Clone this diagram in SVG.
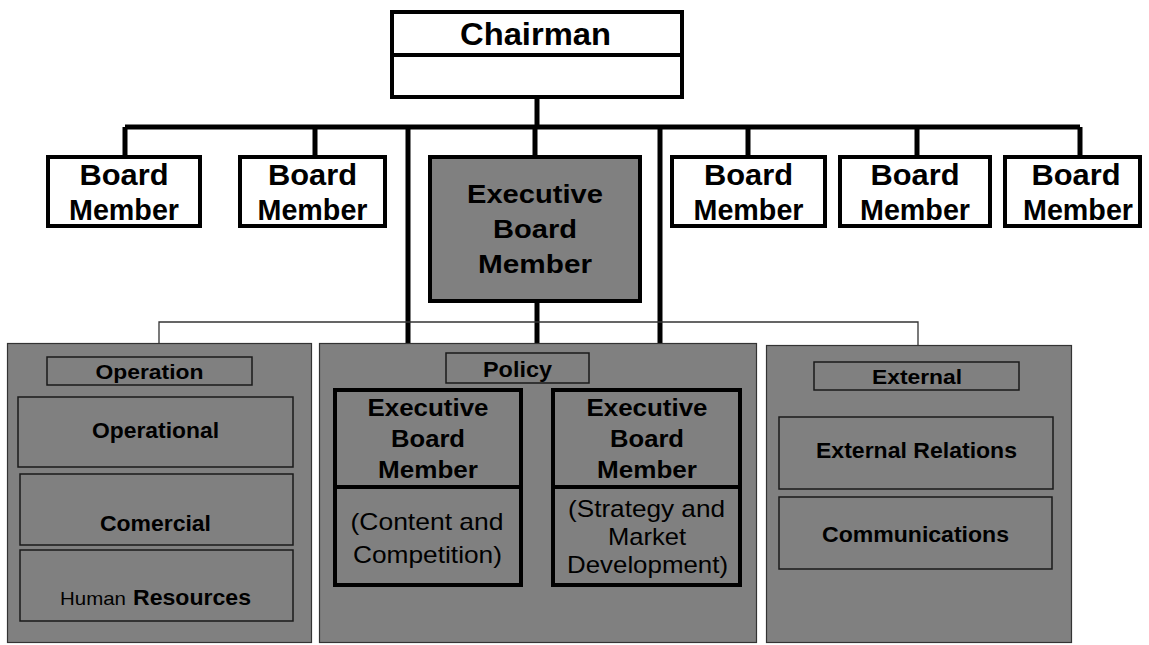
<svg xmlns="http://www.w3.org/2000/svg" width="1149" height="645" viewBox="0 0 1149 645">
<style>
text{font-family:"Liberation Sans",Arial,sans-serif;fill:#000;text-anchor:middle}
.b{font-weight:bold}
.s{text-anchor:start}
.box{fill:#fff;stroke:#000;stroke-width:4}
.gbox{fill:#808080;stroke:#000;stroke-width:4}
.panel{fill:#808080;stroke:#333;stroke-width:1.2}
.sub{fill:#808080;stroke:#1a1a1a;stroke-width:1.5}
.thick{fill:none;stroke:#000;stroke-width:5}
.thin{fill:none;stroke:#333;stroke-width:1.3}
.tm{font-size:29px;font-weight:bold}
.ce{font-size:26px;font-weight:bold}
.pe{font-size:23.5px;font-weight:bold}
.pr{font-size:24px}
</style>
<rect width="1149" height="645" fill="#fff"/>
<g id="connectors">
<path class="thick" d="M537 97V127M125 127H1080M125 127V157M315 127V157M408 127V390M535 127V157M660 127V390M748 127V157M917 127V157M1080 127V157"/>
<path class="thick" d="M537 301V343"/>
<path class="thin" d="M159 343V322H918V345"/>
</g>
<g id="panel-operation">
<rect class="panel" x="7.5" y="343.5" width="304" height="299"/>
<rect class="sub" x="47" y="357" width="205" height="28"/>
<text class="b" x="149.5" y="379" font-size="21" textLength="108" lengthAdjust="spacingAndGlyphs">Operation</text>
<rect class="sub" x="18" y="397" width="275" height="70"/>
<text class="b" x="155.5" y="438" font-size="22" textLength="127" lengthAdjust="spacingAndGlyphs">Operational</text>
<rect class="sub" x="20" y="474" width="273" height="71"/>
<text class="b" x="155.5" y="531" font-size="22" textLength="111" lengthAdjust="spacingAndGlyphs">Comercial</text>
<rect class="sub" x="20" y="550" width="273" height="71"/>
<text class="s" x="60" y="605" font-size="19" textLength="66" lengthAdjust="spacingAndGlyphs">Human</text>
<text class="b s" x="133" y="605" font-size="22.5" textLength="118" lengthAdjust="spacingAndGlyphs">Resources</text>
</g>
<g id="panel-policy">
<rect class="panel" x="319.5" y="343.5" width="437" height="299"/>
<rect class="sub" x="446" y="353" width="143" height="30"/>
<text class="b" x="517.5" y="377" font-size="21.5" textLength="69" lengthAdjust="spacingAndGlyphs">Policy</text>
</g>
<g id="panel-external">
<rect class="panel" x="766.5" y="345.5" width="305" height="297"/>
<rect class="sub" x="814" y="362" width="205" height="28"/>
<text class="b" x="917" y="384" font-size="21" textLength="90" lengthAdjust="spacingAndGlyphs">External</text>
<rect class="sub" x="779" y="417" width="274" height="72"/>
<text class="b" x="916.5" y="458" font-size="21.5" textLength="201" lengthAdjust="spacingAndGlyphs">External Relations</text>
<rect class="sub" x="779" y="497" width="273" height="72"/>
<text class="b" x="915.5" y="542" font-size="22" textLength="187" lengthAdjust="spacingAndGlyphs">Communications</text>
</g>
<g id="chairman">
<rect class="box" x="392" y="12" width="290" height="85"/>
<line x1="392" y1="55" x2="682" y2="55" stroke="#000" stroke-width="4"/>
<text class="b" x="535.5" y="45" font-size="30.5" textLength="151" lengthAdjust="spacingAndGlyphs">Chairman</text>
</g>
<g id="board-member-1">
<rect class="box" x="48" y="157" width="152" height="69"/>
<text class="tm" x="124" y="185" textLength="89" lengthAdjust="spacingAndGlyphs">Board</text>
<text class="tm" x="124" y="220" textLength="110" lengthAdjust="spacingAndGlyphs">Member</text>
</g>
<g id="board-member-2">
<rect class="box" x="240" y="157" width="145" height="69"/>
<text class="tm" x="312.5" y="185" textLength="89" lengthAdjust="spacingAndGlyphs">Board</text>
<text class="tm" x="312.5" y="220" textLength="110" lengthAdjust="spacingAndGlyphs">Member</text>
</g>
<g id="executive-board-member">
<rect class="gbox" x="430" y="157" width="210" height="144"/>
<text class="ce" x="535" y="203" textLength="136" lengthAdjust="spacingAndGlyphs">Executive</text>
<text class="ce" x="535" y="238" textLength="84" lengthAdjust="spacingAndGlyphs">Board</text>
<text class="ce" x="535" y="273" textLength="114" lengthAdjust="spacingAndGlyphs">Member</text>
</g>
<g id="board-member-3">
<rect class="box" x="672" y="157" width="153" height="69"/>
<text class="tm" x="748.5" y="185" textLength="89" lengthAdjust="spacingAndGlyphs">Board</text>
<text class="tm" x="748.5" y="220" textLength="110" lengthAdjust="spacingAndGlyphs">Member</text>
</g>
<g id="board-member-4">
<rect class="box" x="840" y="157" width="150" height="69"/>
<text class="tm" x="915" y="185" textLength="89" lengthAdjust="spacingAndGlyphs">Board</text>
<text class="tm" x="915" y="220" textLength="110" lengthAdjust="spacingAndGlyphs">Member</text>
</g>
<g id="board-member-5">
<rect class="box" x="1005" y="157" width="135" height="69"/>
<text class="tm" x="1076" y="185" textLength="89" lengthAdjust="spacingAndGlyphs">Board</text>
<text class="tm" x="1078" y="220" textLength="110" lengthAdjust="spacingAndGlyphs">Member</text>
</g>
<g id="exec-content">
<rect class="gbox" x="335" y="390" width="186" height="195"/>
<line x1="335" y1="487" x2="521" y2="487" stroke="#000" stroke-width="4"/>
<text class="pe" x="428" y="416" textLength="121" lengthAdjust="spacingAndGlyphs">Executive</text>
<text class="pe" x="428" y="447" textLength="74" lengthAdjust="spacingAndGlyphs">Board</text>
<text class="pe" x="428" y="478" textLength="100" lengthAdjust="spacingAndGlyphs">Member</text>
<text class="pr" x="427" y="530" textLength="153" lengthAdjust="spacingAndGlyphs">(Content and</text>
<text class="pr" x="427.5" y="563" textLength="149" lengthAdjust="spacingAndGlyphs">Competition)</text>
</g>
<g id="exec-strategy">
<rect class="gbox" x="553" y="390" width="187" height="195"/>
<line x1="553" y1="487" x2="740" y2="487" stroke="#000" stroke-width="4"/>
<text class="pe" x="647" y="416" textLength="121" lengthAdjust="spacingAndGlyphs">Executive</text>
<text class="pe" x="647" y="447" textLength="74" lengthAdjust="spacingAndGlyphs">Board</text>
<text class="pe" x="647" y="478" textLength="100" lengthAdjust="spacingAndGlyphs">Member</text>
<text class="pr" x="646.5" y="517" textLength="157" lengthAdjust="spacingAndGlyphs">(Strategy and</text>
<text class="pr" x="647" y="545" textLength="78" lengthAdjust="spacingAndGlyphs">Market</text>
<text class="pr" x="647.5" y="573" textLength="161" lengthAdjust="spacingAndGlyphs">Development)</text>
</g>
</svg>
